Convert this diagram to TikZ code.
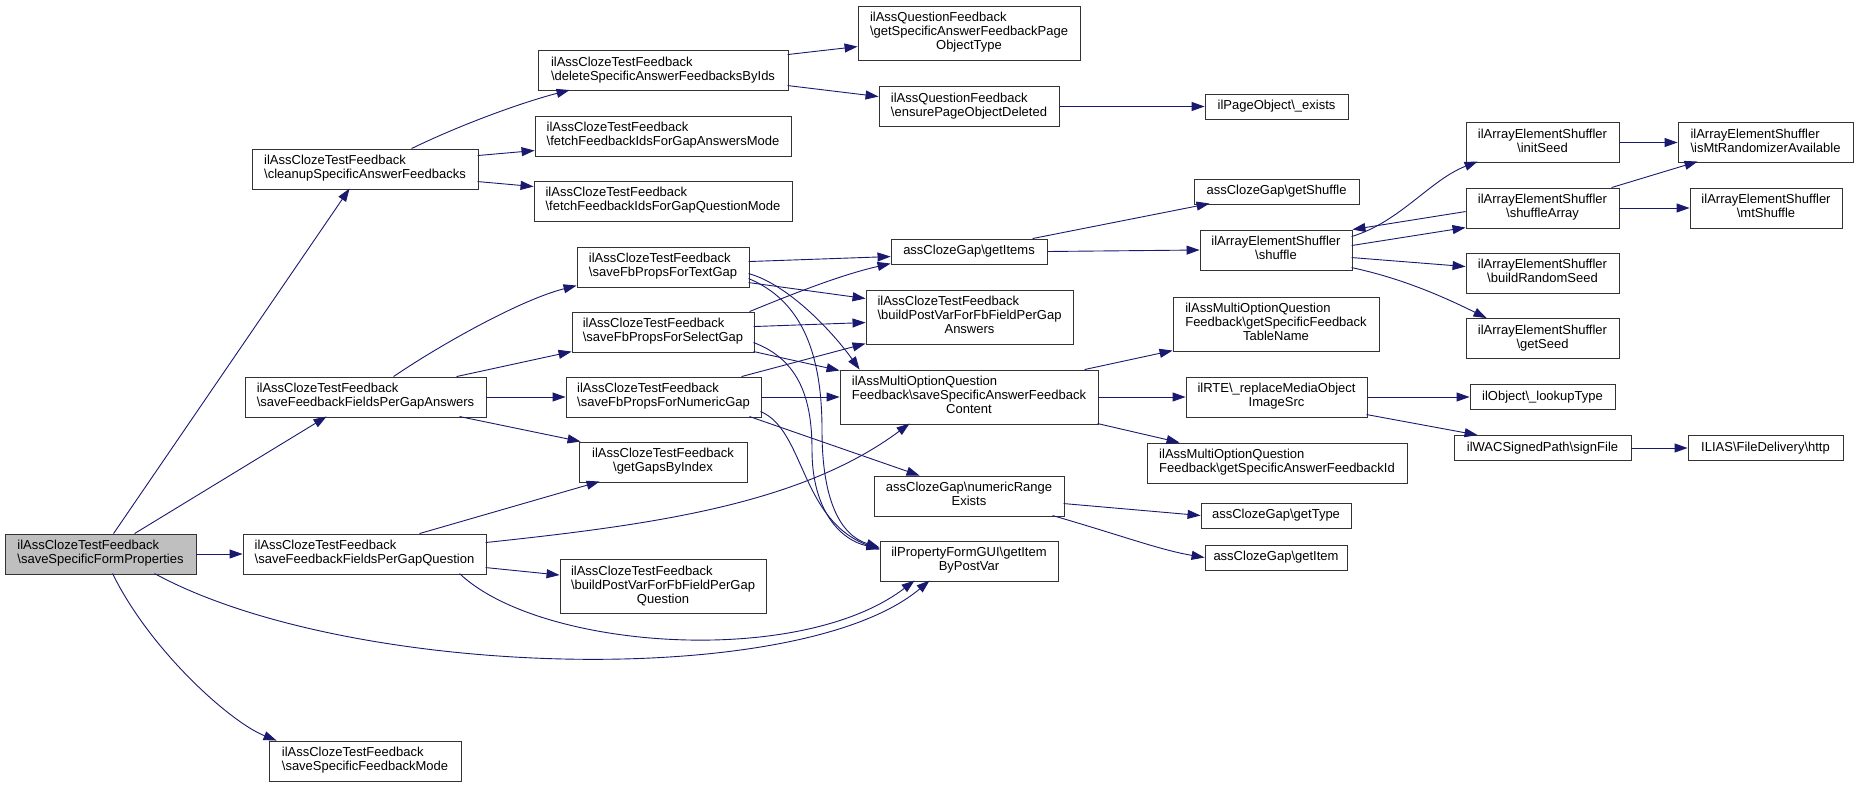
\documentclass[tikz,border=0pt]{standalone}
\usepackage{fontspec}
\setmainfont{Liberation Sans}
\usetikzlibrary{arrows.meta,calc}
\definecolor{edgeblue}{HTML}{191970}
\definecolor{rootgray}{HTML}{BFBFBF}
\newcommand{\bsl}{\textbackslash}
\newcommand{\twol}[2]{\begin{tabular}{@{}l@{}}#1\\\multicolumn{1}{@{}c@{}}{#2}\end{tabular}}
\newcommand{\threel}[3]{\begin{tabular}{@{}l@{}}#1\\#2\\\multicolumn{1}{@{}c@{}}{#3}\end{tabular}}
\begin{document}
\begin{tikzpicture}[x=1pt,y=-1pt,
  box/.style={draw=black!80, fill=white, line width=0.9pt, inner sep=0pt, font=\fontsize{13}{14}\selectfont},
  link/.style={draw=edgeblue, line width=0.9pt, -{Triangle[length=13pt,width=9pt]}}]
\fill[white] (0,0) rectangle (1859,787);
\useasboundingbox (0,0) rectangle (1859,787);

% rank 0
\node[box, fill=rootgray, minimum width=191pt, minimum height=40pt] (root) at (100.5,554) {\twol{ilAssClozeTestFeedback}{\bsl saveSpecificFormProperties}};
% rank 1
\node[box, minimum width=226pt, minimum height=40pt] (cleanup) at (365,169) {\twol{ilAssClozeTestFeedback}{\bsl cleanupSpecificAnswerFeedbacks}};
\node[box, minimum width=241pt, minimum height=40pt] (ffpga) at (365.5,397) {\twol{ilAssClozeTestFeedback}{\bsl saveFeedbackFieldsPerGapAnswers}};
\node[box, minimum width=243pt, minimum height=40pt] (ffpgq) at (364.5,554) {\twol{ilAssClozeTestFeedback}{\bsl saveFeedbackFieldsPerGapQuestion}};
\node[box, minimum width=192pt, minimum height=40pt] (sfm) at (365,761) {\twol{ilAssClozeTestFeedback}{\bsl saveSpecificFeedbackMode}};
% rank 2
\node[box, minimum width=250pt, minimum height=40pt] (del) at (663,70.5) {\twol{ilAssClozeTestFeedback}{\bsl deleteSpecificAnswerFeedbacksByIds}};
\node[box, minimum width=256pt, minimum height=40pt] (fam) at (663,136) {\twol{ilAssClozeTestFeedback}{\bsl fetchFeedbackIdsForGapAnswersMode}};
\node[box, minimum width=258pt, minimum height=40pt] (fqm) at (663,201) {\twol{ilAssClozeTestFeedback}{\bsl fetchFeedbackIdsForGapQuestionMode}};
\node[box, minimum width=172pt, minimum height=40pt] (tg) at (663,267) {\twol{ilAssClozeTestFeedback}{\bsl saveFbPropsForTextGap}};
\node[box, minimum width=182pt, minimum height=40pt] (sg) at (663,332) {\twol{ilAssClozeTestFeedback}{\bsl saveFbPropsForSelectGap}};
\node[box, minimum width=195pt, minimum height=40pt] (ng) at (663.5,397) {\twol{ilAssClozeTestFeedback}{\bsl saveFbPropsForNumericGap}};
\node[box, minimum width=168pt, minimum height=40pt] (gbi) at (663,462) {\twol{ilAssClozeTestFeedback}{\bsl getGapsByIndex}};
\node[box, minimum width=206pt, minimum height=54pt] (bpq) at (663,586.5) {\threel{ilAssClozeTestFeedback}{\bsl buildPostVarForFbFieldPerGap}{Question}};
% rank 3
\node[box, minimum width=222pt, minimum height=54pt] (pot) at (969,33) {\threel{ilAssQuestionFeedback}{\bsl getSpecificAnswerFeedbackPage}{ObjectType}};
\node[box, minimum width=180pt, minimum height=40pt] (epd) at (969,106.5) {\twol{ilAssQuestionFeedback}{\bsl ensurePageObjectDeleted}};
\node[box, minimum width=156pt, minimum height=25pt] (gitems) at (969,251.5) {assClozeGap\bsl getItems};
\node[box, minimum width=207pt, minimum height=54pt] (bpa) at (969.5,317) {\threel{ilAssClozeTestFeedback}{\bsl buildPostVarForFbFieldPerGap}{Answers}};
\node[box, minimum width=258pt, minimum height=54pt] (ssafc) at (969,397) {\threel{ilAssMultiOptionQuestion}{Feedback\bsl saveSpecificAnswerFeedback}{Content}};
\node[box, minimum width=190pt, minimum height=40pt] (nre) at (969,496) {\twol{assClozeGap\bsl numericRange}{Exists}};
\node[box, minimum width=178pt, minimum height=40pt] (gibpv) at (969,561) {\twol{ilPropertyFormGUI\bsl getItem}{ByPostVar}};
% rank 4
\node[box, minimum width=143pt, minimum height=25pt] (exists) at (1276.5,106.5) {ilPageObject\bsl\_exists};
\node[box, minimum width=165pt, minimum height=25pt] (gshuf) at (1276.5,191.5) {assClozeGap\bsl getShuffle};
\node[box, minimum width=152pt, minimum height=40pt] (shuf) at (1276,250) {\twol{ilArrayElementShuffler}{\bsl shuffle}};
\node[box, minimum width=206pt, minimum height=54pt] (tname) at (1276,324) {\threel{ilAssMultiOptionQuestion}{Feedback\bsl getSpecificFeedback}{TableName}};
\node[box, minimum width=181pt, minimum height=40pt] (rte) at (1276.5,397) {\twol{ilRTE\bsl\_replaceMediaObject}{ImageSrc}};
\node[box, minimum width=260pt, minimum height=40pt] (fbid) at (1277,463) {\twol{ilAssMultiOptionQuestion}{Feedback\bsl getSpecificAnswerFeedbackId}};
\node[box, minimum width=150pt, minimum height=25pt] (gtype) at (1276,515.5) {assClozeGap\bsl getType};
\node[box, minimum width=142pt, minimum height=25pt] (gitem) at (1276,557.5) {assClozeGap\bsl getItem};
% rank 5
\node[box, minimum width=153pt, minimum height=40pt] (iseed) at (1542.5,142.5) {\twol{ilArrayElementShuffler}{\bsl initSeed}};
\node[box, minimum width=153pt, minimum height=40pt] (sarr) at (1542.5,208) {\twol{ilArrayElementShuffler}{\bsl shuffleArray}};
\node[box, minimum width=153pt, minimum height=40pt] (brs) at (1542.5,273) {\twol{ilArrayElementShuffler}{\bsl buildRandomSeed}};
\node[box, minimum width=153pt, minimum height=40pt] (gseed) at (1542.5,338.5) {\twol{ilArrayElementShuffler}{\bsl getSeed}};
\node[box, minimum width=145pt, minimum height=25pt] (lookup) at (1542.5,397) {ilObject\bsl\_lookupType};
\node[box, minimum width=177pt, minimum height=25pt] (sign) at (1542.5,448) {ilWACSignedPath\bsl signFile};
% rank 6
\node[box, minimum width=175pt, minimum height=40pt] (ismt) at (1765.5,142.5) {\twol{ilArrayElementShuffler}{\bsl isMtRandomizerAvailable}};
\node[box, minimum width=152pt, minimum height=40pt] (mts) at (1766,208) {\twol{ilArrayElementShuffler}{\bsl mtShuffle}};
\node[box, minimum width=155pt, minimum height=25pt] (http) at (1765.5,448) {ILIAS\bsl FileDelivery\bsl http};

% edges from root
\draw[link] ($(root.north west)+(109,0)$) -- ($(cleanup.north west)+(98,40)$);
\draw[link] ($(root.north west)+(130,0)$) -- ($(ffpga.north west)+(82,40)$);
\draw[link] (root.east) -- (ffpgq.west);
\draw[link] ($(root.north west)+(150,40)$) .. controls (350,680) and (800,690) .. ($(gibpv.north west)+(50,40)$);
\draw[link] ($(root.north west)+(108,40)$) .. controls (150,650) and (230,722) .. ($(sfm.north west)+(8,0)$);
% cleanup
\draw[link] ($(cleanup.north west)+(160,0)$) .. controls (460,125) and (520,103) .. ($(del.north west)+(32,40)$);
\draw[link] ($(cleanup.north west)+(226,7)$) -- ($(fam.north west)+(0,35)$);
\draw[link] ($(cleanup.north west)+(226,33)$) -- ($(fqm.north west)+(0,6)$);
% delete
\draw[link] ($(del.north west)+(250,4.5)$) -- ($(pot.north west)+(0,41)$);
\draw[link] ($(del.north west)+(250,35.5)$) -- ($(epd.north west)+(0,10.5)$);
\draw[link] (epd.east) -- (exists.west);
% ffpga
\draw[link] ($(ffpga.north west)+(149,0)$) .. controls (440,345) and (520,300) .. ($(tg.north west)+(0,39)$);
\draw[link] ($(ffpga.north west)+(212,0)$) -- ($(sg.north west)+(0,40)$);
\draw[link] (ffpga.east) -- (ng.west);
\draw[link] ($(ffpga.north west)+(215,40)$) -- ($(gbi.north west)+(2,0)$);
% ffpgq
\draw[link] ($(ffpgq.north west)+(177,0)$) -- ($(gbi.north west)+(21,40)$);
\draw[link] ($(ffpgq.north west)+(243,9)$) .. controls (650,525) and (800,505) .. ($(ssafc.north west)+(70,54)$);
\draw[link] ($(ffpgq.north west)+(243,34)$) -- ($(bpq.north west)+(0,16)$);
\draw[link] ($(ffpgq.north west)+(217,40)$) .. controls (540,650) and (800,668) .. ($(gibpv.north west)+(35,40)$);
% text gap
\draw[link] ($(tg.north west)+(172,15)$) -- ($(gitems.north west)+(0,18)$);
\draw[link] ($(tg.north west)+(172,36)$) -- ($(bpa.north west)+(0,9)$);
\draw[link] ($(tg.north west)+(172,27)$) .. controls (790,285) and (835,335) .. ($(ssafc.north west)+(20,0)$);
\draw[link] ($(tg.north west)+(172,32)$) .. controls (800,300) and (822,350) .. (822,430) .. controls (822,500) and (840,535) .. ($(gibpv.north west)+(0,7)$);
% select gap
\draw[link] ($(sg.north west)+(178,0)$) .. controls (790,295) and (840,275) .. ($(gitems.north west)+(0,25)$);
\draw[link] ($(sg.north west)+(182,15)$) -- ($(bpa.north west)+(0,33)$);
\draw[link] ($(sg.north west)+(182,40)$) -- ($(ssafc.north west)+(0,1)$);
\draw[link] ($(sg.north west)+(182,31)$) .. controls (800,360) and (812,400) .. (812,450) .. controls (812,510) and (840,540) .. ($(gibpv.north west)+(0,8)$);
% numeric gap
\draw[link] ($(ng.north west)+(176,0)$) -- ($(bpa.north west)+(0,54)$);
\draw[link] (ng.east) -- (ssafc.west);
\draw[link] ($(ng.north west)+(184,40)$) -- ($(nre.north west)+(46,0)$);
\draw[link] ($(ng.north west)+(195,35)$) .. controls (805,430) and (800,520) .. ($(gibpv.north west)+(0,9)$);
% ssafc
\draw[link] ($(ssafc.north west)+(245,0)$) -- ($(tname.north west)+(0,54)$);
\draw[link] (ssafc.east) -- (rte.west);
\draw[link] ($(ssafc.north west)+(258,54)$) -- ($(fbid.north west)+(33,0)$);
% getItems
\draw[link] ($(gitems.north west)+(142,0)$) -- ($(gshuf.north west)+(16,25)$);
\draw[link] (gitems.east) -- (shuf.west);
% shuffle
\draw[link] ($(shuf.north west)+(152,7)$) .. controls (1400,222) and (1430,180) .. ($(iseed.north west)+(12,39.5)$);
\draw[link] ($(shuf.north west)+(152,16)$) -- ($(sarr.north west)+(0,40)$);
\draw[link] ($(sarr.north west)+(0,24)$) -- (shuf.north east);
\draw[link] ($(shuf.north west)+(152,28)$) -- ($(brs.north west)+(0,14)$);
\draw[link] ($(shuf.north west)+(152,38)$) .. controls (1400,278) and (1440,295) .. ($(gseed.north west)+(21,0)$);
\draw[link] (iseed.east) -- (ismt.west);
\draw[link] ($(sarr.north west)+(146,0)$) -- ($(ismt.north west)+(20,39.5)$);
\draw[link] (sarr.east) -- (mts.west);
% RTE
\draw[link] (rte.east) -- (lookup.west);
\draw[link] ($(rte.north west)+(181,38)$) -- ($(sign.north west)+(24,0)$);
\draw[link] (sign.east) -- (http.west);
% numericRange
\draw[link] ($(nre.north west)+(190,28)$) -- (gtype.west);
\draw[link] ($(nre.north west)+(179,40)$) .. controls (1120,535) and (1160,550) .. (gitem.west);
\end{tikzpicture}
\end{document}
